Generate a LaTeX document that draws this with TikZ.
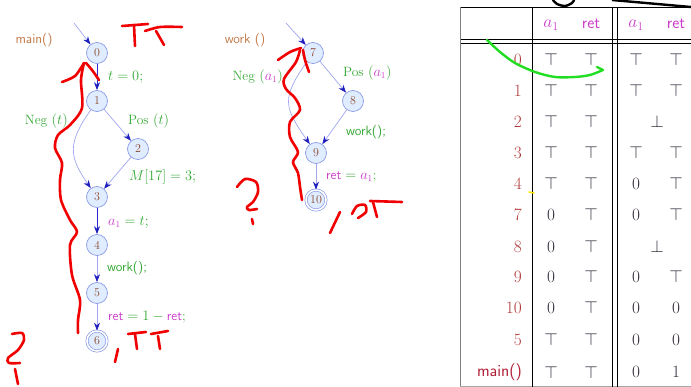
\documentclass[tikz,border=0pt]{standalone}
\usetikzlibrary{arrows.meta}
\definecolor{nfill}{HTML}{E0ECFF}
\definecolor{ndraw}{HTML}{8C9BE6}
\definecolor{ntext}{HTML}{8B4A2B}
\definecolor{elight}{HTML}{A0A6F0}
\definecolor{edark}{HTML}{2A2ACF}
\definecolor{atip}{HTML}{1F1FBF}
\definecolor{lgreen}{HTML}{33A833}
\definecolor{lmag}{HTML}{CC3FCC}
\definecolor{lbrown}{HTML}{C27A48}
\definecolor{rowred}{HTML}{B03A3A}
\definecolor{mainred}{HTML}{B02035}
\definecolor{valc}{HTML}{302838}
\definecolor{pen}{HTML}{F00000}
\definecolor{gpen}{HTML}{22DD22}
\newcommand{\mg}[1]{\textcolor{lmag}{#1}}
\newcommand{\gr}[1]{\textcolor{lgreen}{#1}}
\tikzset{
  st/.style={circle, draw=ndraw, fill=nfill, line width=0.7pt, minimum size=21pt, inner sep=0pt,
    text=ntext, font=\fontsize{12}{12}\selectfont},
  fin/.style={st, double=white, double distance=1.6pt, minimum size=20pt},
  ed/.style={draw=elight, line width=0.7pt, -{Stealth[length=8pt,width=6pt,color=atip]}},
  edd/.style={draw=edark, line width=0.9pt, -{Stealth[length=8pt,width=6pt,color=atip]}},
  lab/.style={inner sep=0pt, font=\fontsize{13.5}{15}\selectfont},
  cell/.style={inner sep=0pt, font=\fontsize{17}{19}\selectfont, text=valc},
  rowl/.style={inner sep=0pt, anchor=east, font=\fontsize{17}{19}\selectfont, text=rowred},
  hd/.style={inner sep=0pt, font=\fontsize{17}{19}\selectfont, text=lmag},
  tl/.style={line width=0.8pt, draw=black},
  redpen/.style={draw=pen, line width=2.6pt, line cap=round, line join=round},
}
\begin{document}
\begin{tikzpicture}[x=1pt,y=-1pt]
\useasboundingbox (0,0) rectangle (691,387);
% ---------------- main graph
\coordinate (min) at (74,23);
\node[st] (n0) at (97,53) {0};
\node[st] (n1) at (97,101) {1};
\node[st] (n2) at (138,149) {2};
\node[st] (n3) at (97,197) {3};
\node[st] (n4) at (97,245) {4};
\node[st] (n5) at (97,293) {5};
\node[fin] (n6) at (97,341) {6};
\node[lab, text=lbrown] (lmain) at (34,40) {\sffamily main()};
\draw[ed] (min) -- (n0);
\draw[edd] (n0) -- (n1);
\draw[ed] (n1) to[out=235,in=125,looseness=1.3] (n3);
\draw[ed] (n1) -- (n2);
\draw[ed] (n2) -- (n3);
\draw[edd] (n3) -- (n4);
\draw[ed] (n4) -- (n5);
\draw[ed] (n5) -- (n6);
\node[lab, anchor=west] (l01) at (108,77) {\gr{$t=0;$}};
\node[lab, anchor=east] (lneg) at (68,121) {\gr{Neg $(t)$}};
\node[lab, anchor=west] (lpos) at (128,121) {\gr{Pos $(t)$}};
\node[lab, anchor=west] (l23) at (129,177) {\gr{$M[17]=3;$}};
\node[lab, anchor=west] (l34) at (108,222) {$\mg{a_1}\gr{{}=t;}$};
\node[lab, anchor=west] (l45) at (107,268) {\gr{\sffamily work();}};
\node[lab, anchor=west] (l56) at (108,317) {\mg{\sffamily ret}\gr{${}=1-{}$}\mg{\sffamily ret}\gr{;}};
% ---------------- work graph
\coordinate (win) at (286,23);
\node[st] (n7) at (313,53) {7};
\node[st] (n8) at (353,101) {8};
\node[st] (n9) at (316,153) {9};
\node[fin] (n10) at (316,200) {10};
\node[lab, text=lbrown] (lwork) at (245,40) {\sffamily work ()};
\draw[ed] (win) -- (n7);
\draw[ed] (n7) to[out=235,in=125,looseness=1.4] (n9);
\draw[ed] (n7) -- (n8);
\draw[ed] (n8) -- (n9);
\draw[ed] (n9) -- (n10);
\node[lab, anchor=east] (lneg2) at (283,77) {\gr{Neg $($}$\mg{a_1}$\gr{$)$}};
\node[lab, anchor=west] (lpos2) at (343,73) {\gr{Pos $($}$\mg{a_1}$\gr{$)$}};
\node[lab, anchor=west] (l89) at (346,132) {\gr{\sffamily work();}};
\node[lab, anchor=west] (l910) at (326,177) {\mg{\sffamily ret}\gr{${}={}$}$\mg{a_1}$\gr{;}};
% ---------------- table
\draw[tl] (460,7) -- (691,7);
\draw[tl] (460,39) -- (691,39);
\draw[tl] (460,43) -- (691,43);
\draw[line width=1pt, draw=gray] (460,7) -- (460,387);
\draw[line width=0.8pt, draw=gray!70] (460,386) -- (691,386);
\draw[tl] (532,7) -- (532,387);
\draw[tl] (612,7) -- (612,387);
\draw[tl] (617,7) -- (617,387);
\node[hd] (h1) at (551,25) {$a_1$};
\node[hd] (h2) at (591,24) {\sffamily ret};
\node[hd] (h3) at (636,25) {$a_1$};
\node[hd] (h4) at (676,24) {\sffamily ret};
\foreach \lab/\y/\a/\b [count=\i] in {
  0/60/\top/\top,
  1/91/\top/\top,
  2/122/\top/\top,
  3/153/\top/\top,
  4/184/\top/\top,
  7/215/0/\top,
  8/247/0/\top,
  9/277/0/\top,
  10/308/0/\top,
  5/340/\top/\top}{
  \node[rowl] (r\i) at (522,\y) {$\lab$};
  \node[cell] (a\i) at (551,\y) {$\a$};
  \node[cell] (b\i) at (591,\y) {$\b$};
}
\foreach \y/\c/\d [count=\i] in {60/\top/\top, 91/\top/\top, 153/\top/\top, 184/0/\top, 215/0/\top, 277/0/\top, 308/0/0, 340/0/0, 372/0/1}{
  \node[cell] (c\i) at (636,\y) {$\c$};
  \node[cell] (d\i) at (676,\y) {$\d$};
}
\node[cell] (bot1) at (657,122) {$\bot$};
\node[cell] (bot2) at (657,247) {$\bot$};
\node[rowl, text=mainred] (rmain) at (522,372) {\sffamily main()};
\node[cell] (am) at (551,372) {$\top$};
\node[cell] (bm) at (591,372) {$\top$};
% ---------------- handwriting
\draw[redpen] (122,26) -- (148,24);
\draw[redpen] (134,25) -- (135,46);
\draw[redpen] plot[smooth] coordinates {(145,31) (160,27) (182,27)};
\draw[redpen] (156,31) -- (164,45);
\draw[redpen] plot[smooth] coordinates {(62,82) (75,76) (84,63)};
\draw[redpen] plot[smooth] coordinates {(86,63) (92,70) (99,80)};
\draw[redpen] plot[smooth] coordinates {(84,63) (81,80) (82,108) (70,125) (58,135) (55,148) (62,163) (60,180) (61,200) (70,220) (77,232) (70,245) (72,275) (80,300) (78,320) (78,333)};
\draw[redpen] (118,349) -- (115,362);
\draw[redpen] (128,334) -- (146,332);
\draw[redpen] (135,334) -- (137,349);
\draw[redpen] (151,334) -- (168,331);
\draw[redpen] (158,336) -- (160,349);
\draw[redpen] plot[smooth] coordinates {(12,334) (22,333) (24,340) (18,350) (8,358) (9,363) (20,363)};
\draw[redpen] (15,369) -- (18,384);
\draw[redpen] plot[smooth] coordinates {(278,60) (290,52) (301,48)};
\draw[redpen] plot[smooth] coordinates {(303,50) (305,60) (309,72)};
\draw[redpen] plot[smooth] coordinates {(300,50) (296,62) (284,79) (286,89) (295,98) (300,110) (290,122) (290,137) (298,152) (293,162) (298,173) (300,187) (302,200)};
\draw[redpen] plot[smooth] coordinates {(237,187) (245,179) (256,182) (258,192) (253,202) (247,207) (249,210) (257,209)};
\draw[redpen] (252,219) -- (253,224);
\draw[redpen] (340,212) -- (330,233);
\draw[redpen] plot[smooth] coordinates {(352,214) (357,206) (365,205) (366,212) (358,218)};
\draw[redpen] (370,201) -- (402,202);
\draw[redpen] (373,202) -- (377,217);
\draw[gpen, line width=2.4pt, line cap=round, line join=round] plot[smooth] coordinates {(487,40) (500,52) (515,63) (535,72) (555,77) (575,77) (590,75) (603,70)} -- (597,67);
\draw[black, line width=2.4pt, line cap=round] plot[smooth] coordinates {(553,0) (557,4) (565,6) (572,3) (574,0)};
\draw[black, line width=2.4pt] (612,0) -- (691,7);
\draw[yellow!90!orange, line width=1.5pt, line cap=round] (529,192) -- (534,193);
\end{tikzpicture}
\end{document}
